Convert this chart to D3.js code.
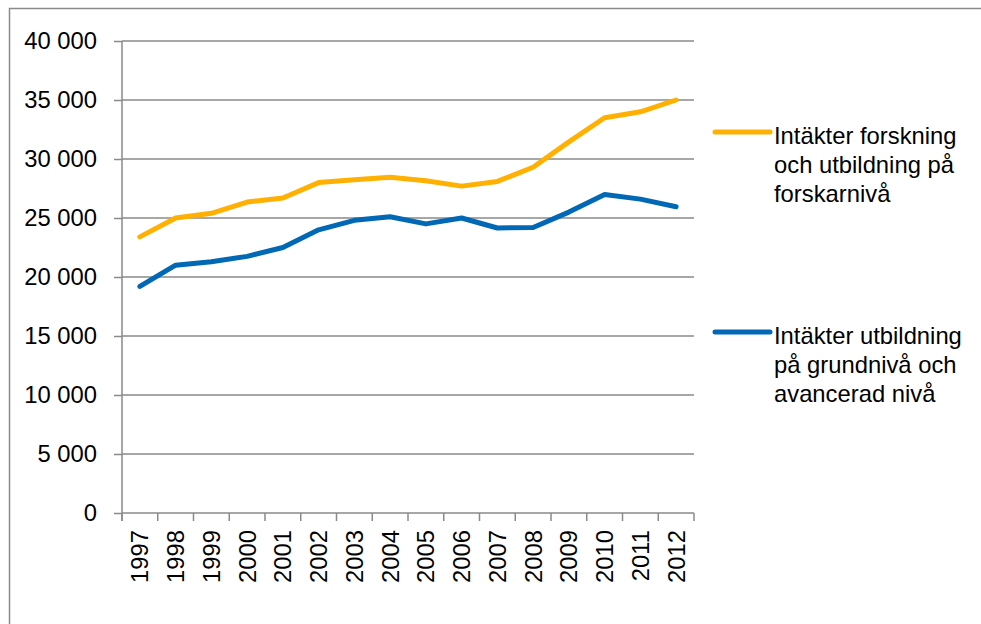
<!DOCTYPE html>
<html>
<head>
<meta charset="utf-8">
<script src="https://cdn.jsdelivr.net/npm/d3@7"></script>
<style>
  body { margin: 0; background: #fff; }
  text { font-family: "Liberation Sans", Arial, sans-serif; fill: #000; }
</style>
</head>
<body>
<svg id="chart" width="981" height="624"></svg>
<script>
// data
var years = ["1997","1998","1999","2000","2001","2002","2003","2004","2005","2006","2007","2008","2009","2010","2011","2012"];
var forskning = [23400, 25000, 25400, 26350, 26700, 28000, 28250, 28450, 28150, 27700, 28100, 29300, 31450, 33500, 34000, 35000];
var utbildning = [19200, 21000, 21300, 21750, 22500, 24000, 24800, 25100, 24500, 25000, 24150, 24200, 25500, 27000, 26600, 25950];
var yTicks = [0, 5000, 10000, 15000, 20000, 25000, 30000, 35000, 40000];
var seriesNames = [
  ["Intäkter forskning", "och utbildning på", "forskarnivå"],
  ["Intäkter utbildning", "på grundnivå och", "avancerad nivå"]
];
var colors = ["#ffb000", "#0068b4"];

function drawChart() {
  var svg = d3.select("#chart");
  var fs = 23.8;
  var gridColor = "#8a8a8a";

  // outer frame (runs off the right and bottom edge)
  svg.append("rect").attr("x", 9.5).attr("y", 8.5).attr("width", 1000).attr("height", 700)
    .attr("fill", "none").attr("stroke", gridColor).attr("stroke-width", 1.5);

  var pLeft = 122, pRight = 694, pTop = 41, pBottom = 513;

  var x = d3.scaleBand().domain(years).range([pLeft, pRight]);
  var y = d3.scaleLinear().domain([0, 40000]).range([pBottom, pTop]);

  var fmt = function(v) { return d3.format(",")(v).replace(/,/g, " "); };

  // gridlines
  svg.append("g").selectAll("line").data(yTicks.filter(function(d) { return d > 0; })).enter()
    .append("line")
    .attr("x1", pLeft).attr("x2", pRight)
    .attr("y1", function(d) { return y(d); }).attr("y2", function(d) { return y(d); })
    .attr("stroke", gridColor).attr("stroke-width", 1.5);

  // y axis
  var yAxis = svg.append("g").attr("transform", "translate(" + pLeft + ",0)")
    .call(d3.axisLeft(y).tickValues(yTicks).tickFormat(fmt).tickSize(8).tickPadding(17));
  yAxis.select(".domain").attr("d", "M0," + pTop + "V" + (pBottom + 8)).attr("stroke", gridColor).attr("stroke-width", 1.5);
  yAxis.selectAll(".tick line").attr("stroke", gridColor).attr("stroke-width", 1.5);
  yAxis.selectAll(".tick text").attr("font-size", fs).style("font-family", "Liberation Sans, Arial, sans-serif").attr("fill", "#000");

  // x axis: ticks between categories
  var xAxis = svg.append("g").attr("transform", "translate(0," + pBottom + ")");
  xAxis.append("line").attr("x1", pLeft).attr("x2", pRight).attr("y1", 0).attr("y2", 0)
    .attr("stroke", gridColor).attr("stroke-width", 1.5);
  var bounds = years.map(function(d) { return x(d); }).concat([pRight]);
  xAxis.selectAll(".tk").data(bounds).enter().append("line")
    .attr("x1", function(d) { return d; }).attr("x2", function(d) { return d; })
    .attr("y1", 0).attr("y2", 8)
    .attr("stroke", gridColor).attr("stroke-width", 1.5);
  xAxis.selectAll(".lbl").data(years).enter().append("text")
    .attr("transform", function(d) { return "translate(" + (x(d) + x.bandwidth() / 2 + 8.5) + ",17) rotate(-90)"; })
    .attr("text-anchor", "end")
    .attr("font-size", fs)
    .text(function(d) { return d; });

  // lines
  var line = d3.line()
    .x(function(d, i) { return x(years[i]) + x.bandwidth() / 2; })
    .y(function(d) { return y(d); });

  [forskning, utbildning].forEach(function(s, k) {
    svg.append("path").datum(s).attr("d", line)
      .attr("fill", "none").attr("stroke", colors[k]).attr("stroke-width", 5)
      .attr("stroke-linejoin", "round").attr("stroke-linecap", "round");
  });

  // legend
  var legY = [132, 332];
  seriesNames.forEach(function(lines, k) {
    var g = svg.append("g");
    g.append("line").attr("x1", 715).attr("x2", 770).attr("y1", legY[k]).attr("y2", legY[k])
      .attr("stroke", colors[k]).attr("stroke-width", 5).attr("stroke-linecap", "round");
    g.selectAll("text").data(lines).enter().append("text")
      .attr("x", 774)
      .attr("y", function(d, i) { return legY[k] + 12 + i * 29; })
      .attr("font-size", fs)
      .text(function(d) { return d; });
  });
}

drawChart();
</script>
</body>
</html>
